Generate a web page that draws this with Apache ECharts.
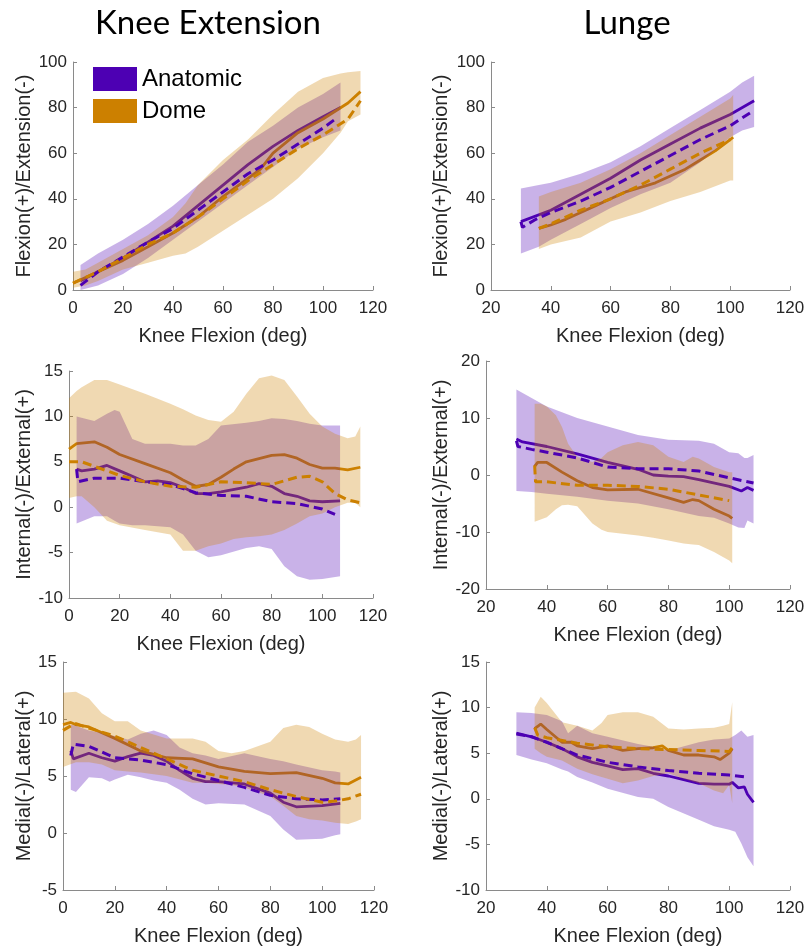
<!DOCTYPE html>
<html><head><meta charset="utf-8">
<script src="https://cdn.jsdelivr.net/npm/echarts@6/dist/echarts.min.js"></script>
<style>html,body{margin:0;padding:0;background:#fff}#c{width:809px;height:951px}</style>
</head><body><div id="c"></div>
<script>
// ---------- Panel 1: Knee Extension, Flexion/Extension ----------
const p1AnatBandX = [3,10,20,30,40,50,60,70,80,90,100,107];
const p1AnatLo    = [0,2,7,14,22,30,38,46,54,62,67,70];
const p1AnatHi    = [11,16,22,29,37,46,55,65,72,80,86,91];
const p1DomeBandX = [0,5,10,20,30,40,45,50,60,70,80,90,100,107,110,115];
const p1DomeLo    = [1,2,4,9,12,15,16,19,26,33,40,49,60,69,74,77];
const p1DomeHi    = [8,9,12,18,24,32,38,46,57,66,77,87,93,95,95.5,96];
const p1AnatSolidX = [3,10,20,30,40,50,60,70,80,90,100,107];
const p1AnatSolidY = [4,8,14,21,28,37,46,55,63,70,76,80];
const p1AnatDashX  = [3,10,20,30,40,50,60,70,80,90,100,105];
const p1AnatDashY  = [2,8,14.5,21,27,35,43,51,57,64,71,75];
const p1DomeSolidX = [0,10,20,30,40,50,60,70,75,80,90,100,110,115];
const p1DomeSolidY = [3,8,13,19,25,32,41,49,53,60,69,75,82,87];
const p1DomeDashX  = [0,10,20,30,40,50,60,70,80,90,100,110,115];
const p1DomeDashY  = [3,8,14,20,25,32,40,48,55,62,68,75,83];

// ---------- Panel 2: Lunge, Flexion/Extension ----------
const p2AnatBandX = [30,36,40,50,60,70,80,90,100,104,108];
const p2AnatLo    = [16,19,22,29,36,42,47,56,67,70,71.5];
const p2AnatHi    = [44.5,46,47,51,56,63,71,79,87,91,94];
const p2DomeBandX = [36,40,50,60,70,80,90,100,101];
const p2DomeLo    = [18,20,23,30,34,39,43,48,48];
const p2DomeHi    = [41,43,47,53,60,68,76,84,85.5];
const p2AnatSolidX = [30,40,50,60,70,80,90,100,108];
const p2AnatSolidY = [30,35,42,49,57,64,71,77,83];
const p2AnatDashX  = [30,30.5,35,40,50,60,70,80,90,100,107];
const p2AnatDashY  = [30,27.5,31,34,39,45,52,59,66,72,78];
const p2DomeSolidX = [36,40,45,50,55,60,65,70,75,80,85,90,95,100,101];
const p2DomeSolidY = [27,28.5,31,34,37,40,43,45,47,50,53,57,61,66,67];
const p2DomeDashX  = [36,40,50,60,70,80,90,100];
const p2DomeDashY  = [27,29,35,40,46,53,60,66];

// ---------- Panel 3: Knee Extension, Internal/External ----------
const p3AnatBandX = [3,10,15,18,20,25,30,40,45,50,55,60,70,75,80,85,90,95,100,107];
const p3AnatLo    = [-1.8,-1,-1,-1.5,-1.8,-2,-2,-2.2,-3,-4.8,-5.5,-5.3,-4.5,-4.3,-4.6,-6.5,-7.6,-8,-7.9,-7.6];
const p3AnatHi    = [10,9.5,10.3,10.7,10.5,7.5,7,7,6.8,6.8,7.5,9,9.3,9.5,9.8,9.7,9.5,9.2,9,9];
const p3DomeBandX = [0,3,5,10,15,20,30,40,45,50,55,60,65,70,75,80,85,90,95,100,105,110,113,115];
const p3DomeLo    = [1,1.2,1.2,0,-1.5,-2,-2.5,-3,-4.8,-4.8,-4.3,-4,-3.5,-3.3,-3.2,-3,-2.5,-1.8,-1,-0.7,0,0.5,0.5,0];
const p3DomeHi    = [12,12.8,13.2,14,14,13.5,12.5,11.4,10.8,10.1,9.6,9.4,10.5,12.5,14.2,14.5,14,12.2,10.3,8.9,8.1,7.6,7.8,8.9];
const p3AnatSolidX = [3,5,10,15,20,30,35,40,45,50,55,60,70,75,80,85,90,95,100,107];
const p3AnatSolidY = [4.2,4,4.2,4.6,4,2.8,2.9,2.7,2.2,1.5,1.5,1.7,2.2,2.6,2.3,1.5,1.2,0.7,0.6,0.7];
const p3AnatDashX  = [3,3.5,10,20,30,40,50,60,70,80,90,100,105];
const p3AnatDashY  = [4.2,2.8,3.2,3.2,2.8,2.5,1.6,1.3,1.2,0.6,0.4,-0.2,-0.8];
const p3DomeSolidX = [0,3,10,15,20,30,40,45,50,55,60,65,70,80,85,90,95,100,105,110,115];
const p3DomeSolidY = [6.4,7,7.2,6.6,5.8,4.8,3.8,3,2.3,2.5,3.3,4.2,5,5.7,5.8,5.4,4.7,4.3,4.3,4.1,4.4];
const p3DomeDashX  = [0,5,10,20,30,40,50,60,70,80,90,95,100,105,110,115];
const p3DomeDashY  = [5,5,4.5,3.5,2.8,2.3,2.2,2.8,2.7,2.5,3.3,3.4,2.8,1.5,0.8,0.5];

// ---------- Panel 4: Lunge, Internal/External ----------
const p4AnatBandX = [30,35,40,50,60,70,80,90,95,100,103,105,106,108];
const p4AnatLo    = [-2.8,-3,-3.3,-3.8,-4.5,-5,-6,-7.2,-7.5,-8.5,-9.2,-9.3,-8,-8.5];
const p4AnatHi    = [15,13.5,12,10,8.5,7,6.2,6,5.5,4,3.8,3,3,3.5];
const p4DomeBandX = [36,38,40,43,45,47,50,55,58,60,65,70,75,80,85,88,90,95,100,101];
const p4DomeLo    = [-8.2,-7.8,-7.4,-6,-5.3,-5.2,-5.5,-8.5,-9.6,-10,-10.3,-10.6,-11,-11.5,-12,-12.2,-12.3,-13.5,-15,-15.5];
const p4DomeHi    = [12.5,12.5,12,10.5,8.4,5.5,3.2,2.3,3,4,5.2,5.8,5.2,3.2,2.3,3.2,2.9,1.4,0.5,0.5];
const p4AnatSolidX = [30,32,40,50,60,70,75,80,85,90,100,104,106,108];
const p4AnatSolidY = [6.3,5.8,5,3.7,2.2,1,0,-0.2,-0.3,-0.8,-2,-2.8,-2.2,-2.7];
const p4AnatDashX  = [30,30.5,35,40,50,60,70,80,90,100,108];
const p4AnatDashY  = [6,5,4.5,4,3,1.4,1.1,1.1,0.7,-0.5,-1.4];
const p4DomeSolidX = [36,37,40,45,50,55,60,70,80,85,88,90,95,100,101];
const p4DomeSolidY = [1.5,2.2,2.2,0.5,-1,-2.2,-2.6,-2.5,-4,-4.8,-4.3,-4.5,-6,-7.2,-7.6];
const p4DomeDashX  = [36,36.3,40,50,60,70,80,90,100];
const p4DomeDashY  = [1.7,-1.2,-1.2,-1.8,-1.8,-2,-2.5,-3.5,-4.5];

// ---------- Panel 5: Knee Extension, Medial/Lateral ----------
const p5AnatBandX = [3,5,10,15,18,20,25,30,35,40,45,50,55,60,70,80,85,90,100,105,107];
const p5AnatLo    = [3.8,3.6,4.9,4.8,4.5,4.7,5.1,4.9,4.6,4.4,3.8,3,2.5,2.6,2.5,1.5,0.3,-0.6,-0.5,-0.2,-0.1];
const p5AnatHi    = [9.5,9.4,9,8.8,8.6,8.5,8.2,8.7,9,8.6,7.5,7,6.8,6.5,7,6.5,6.3,6,5.5,5.4,5.3];
const p5DomeBandX = [0,5,10,15,20,25,30,40,50,55,60,65,70,80,85,90,95,100,105,110,113,115];
const p5DomeLo    = [5.8,6.2,6.2,6,5.5,5.4,5.3,5,4.4,4.4,4.3,4.2,4,3.2,2.4,1.5,1.2,1.1,0.9,0.8,1,1.2];
const p5DomeHi    = [12.3,12.4,11.8,10.5,9.8,9.8,9,8.3,8.3,8,7.2,7,7.2,8,9.2,9.5,9.3,8.7,8.2,8,8.2,8.6];
const p5AnatSolidX = [3,4,10,15,20,25,30,35,40,45,50,55,60,70,80,85,90,100,107];
const p5AnatSolidY = [7.2,6.5,7,6.6,6.3,6.7,7,6.8,6.3,5.5,4.8,4.5,4.5,4.3,3.5,2.7,2.3,2.4,2.6];
const p5AnatDashX  = [3,4,10,20,30,40,50,60,70,80,90,100,107];
const p5AnatDashY  = [6.8,7.8,7.6,6.6,6.4,6,5.2,4.6,4,3.3,3,2.9,3];
const p5DomeSolidX = [0,3,5,10,20,30,40,50,60,70,80,90,100,105,110,115];
const p5DomeSolidY = [9.5,9.7,9.5,9.3,8.3,7.2,6.6,6.5,5.8,5.4,5.2,5.3,4.8,4.4,4.3,4.9];
const p5DomeDashX  = [0,3,5,10,20,30,40,50,60,70,80,90,100,105,110,115];
const p5DomeDashY  = [9,9.4,9.6,9.2,8.5,7.5,6.5,5.5,5,4.5,3.8,3.2,2.7,2.8,3,3.4];

// ---------- Panel 6: Lunge, Medial/Lateral ----------
const p6AnatBandX = [30,35,40,45,47,50,55,60,70,75,80,90,95,100,102,104,106,108];
const p6AnatLo    = [4.8,4.3,3.9,3.2,3,2.4,1.8,1.1,0.2,0,-0.9,-2.3,-3,-3.4,-3.6,-4.9,-6.4,-7.4];
const p6AnatHi    = [9.5,9.4,9.2,8.5,7.2,8,7.2,6.8,6,5.7,5.3,6.2,6.5,6.6,7,7.5,6.8,7];
const p6DomeBandX = [36,38,40,45,50,55,58,60,65,70,75,80,85,90,95,98,100,101];
const p6DomeLo    = [5.5,5,4.6,4.2,3.3,2.7,2.4,2.2,1.7,2,2.5,2.8,2.2,1.7,0.9,0.6,1.5,-0.5];
const p6DomeHi    = [10,11.2,10.5,8.4,8,7.5,8.3,9.2,9.5,9.5,9,7.7,7.6,7.7,7.8,8,8.2,10.6];
const p6AnatSolidX = [30,35,40,45,50,55,60,65,70,75,80,85,90,95,100,101,103,105,106,108];
const p6AnatSolidY = [7.2,6.8,6.2,5.5,4.6,4,3.6,3.2,3.3,2.8,2.5,2.1,1.7,1.6,1.6,1.8,1.2,1.3,0.5,-0.4];
const p6AnatDashX  = [30,35,40,50,60,70,80,90,100,105];
const p6AnatDashY  = [7.1,6.8,6.2,4.8,4,3.5,3.1,2.8,2.6,2.4];
const p6DomeSolidX = [36,38,40,45,48,50,55,60,65,70,75,78,80,85,90,95,97,100,101];
const p6DomeSolidY = [7.7,8.2,7.6,6.2,6.2,5.8,5.5,5.8,5.3,5.5,5.6,5.8,5.3,4.8,4.8,4.6,4.3,5,5.5];
const p6DomeDashX  = [36,37,40,50,60,70,80,90,100,101];
const p6DomeDashY  = [7.8,7,6.7,6.1,5.7,5.5,5.4,5.3,5.2,5.6];

// ---------- Axes / labels ----------
const titles = ['Knee Extension', 'Lunge'];
const yNames = ['Flexion(+)/Extension(-)', 'Internal(-)/External(+)', 'Medial(-)/Lateral(+)'];
const xName = 'Knee Flexion (deg)';
const seriesNames = ['Anatomic', 'Dome'];
const xRanges = [[0,120],[20,120],[0,120],[20,120],[0,120],[20,120]];
const yRanges = [[0,100,20],[0,100,20],[-10,15,5],[-20,20,10],[-5,15,5],[-10,15,5]];

const PURPLE = '#4d00b3';
const ORANGE = '#cc8000';
const TXT = '#262626';
const AXC = '#8a8a8a';

const grids = [
  {left:73,  top:62,  width:300, height:228},
  {left:491, top:62,  width:299, height:228},
  {left:69,  top:371, width:304, height:227},
  {left:486, top:361, width:304, height:228},
  {left:63,  top:662, width:311, height:228},
  {left:486, top:662, width:304, height:228}
];
const yNameGaps = [39, 40, 35, 35, 29, 35];

const panels = [
  {ab:[p1AnatBandX,p1AnatLo,p1AnatHi], db:[p1DomeBandX,p1DomeLo,p1DomeHi], as:[p1AnatSolidX,p1AnatSolidY], ad:[p1AnatDashX,p1AnatDashY], ds:[p1DomeSolidX,p1DomeSolidY], dd:[p1DomeDashX,p1DomeDashY]},
  {ab:[p2AnatBandX,p2AnatLo,p2AnatHi], db:[p2DomeBandX,p2DomeLo,p2DomeHi], as:[p2AnatSolidX,p2AnatSolidY], ad:[p2AnatDashX,p2AnatDashY], ds:[p2DomeSolidX,p2DomeSolidY], dd:[p2DomeDashX,p2DomeDashY]},
  {ab:[p3AnatBandX,p3AnatLo,p3AnatHi], db:[p3DomeBandX,p3DomeLo,p3DomeHi], as:[p3AnatSolidX,p3AnatSolidY], ad:[p3AnatDashX,p3AnatDashY], ds:[p3DomeSolidX,p3DomeSolidY], dd:[p3DomeDashX,p3DomeDashY]},
  {ab:[p4AnatBandX,p4AnatLo,p4AnatHi], db:[p4DomeBandX,p4DomeLo,p4DomeHi], as:[p4AnatSolidX,p4AnatSolidY], ad:[p4AnatDashX,p4AnatDashY], ds:[p4DomeSolidX,p4DomeSolidY], dd:[p4DomeDashX,p4DomeDashY]},
  {ab:[p5AnatBandX,p5AnatLo,p5AnatHi], db:[p5DomeBandX,p5DomeLo,p5DomeHi], as:[p5AnatSolidX,p5AnatSolidY], ad:[p5AnatDashX,p5AnatDashY], ds:[p5DomeSolidX,p5DomeSolidY], dd:[p5DomeDashX,p5DomeDashY]},
  {ab:[p6AnatBandX,p6AnatLo,p6AnatHi], db:[p6DomeBandX,p6DomeLo,p6DomeHi], as:[p6AnatSolidX,p6AnatSolidY], ad:[p6AnatDashX,p6AnatDashY], ds:[p6DomeSolidX,p6DomeSolidY], dd:[p6DomeDashX,p6DomeDashY]}
];

function pairs(xs, ys){ return xs.map((x,i)=>[x, ys[i]]); }

function band(gi, name, b, color){
  const xs=b[0], lo=b[1], hi=b[2];
  return {
    type:'custom', name:name, xAxisIndex:gi, yAxisIndex:gi, z:3, silent:true,
    data: xs.map((x,i)=>[x, lo[i], hi[i]]),
    encode:{x:0, y:[1,2]},
    renderItem:function(params, api){
      if (params.dataIndex !== 0) return null;
      const pts=[];
      for (let i=0;i<xs.length;i++) pts.push(api.coord([xs[i], hi[i]]));
      for (let i=xs.length-1;i>=0;i--) pts.push(api.coord([xs[i], lo[i]]));
      return {type:'polygon', shape:{points:pts}, style:{fill:color, opacity:0.3}};
    }
  };
}
function line(gi, name, d, color, dashed){
  return {
    type:'line', name:name, xAxisIndex:gi, yAxisIndex:gi, z: dashed?4:2, silent:true,
    data: pairs(d[0], d[1]), showSymbol:false, symbol:'none', animation:false,
    color: color,
    lineStyle: dashed ? {color:color, width:3, type:[9,5]} : {color:color, width:2.8}
  };
}

const xAxes=[], yAxes=[], series=[];
panels.forEach((p, gi)=>{
  xAxes.push({
    type:'value', gridIndex:gi, min:xRanges[gi][0], max:xRanges[gi][1], interval:20,
    name:xName, nameLocation:'middle', nameGap:36,
    nameTextStyle:{fontFamily:'Liberation Sans', fontSize:20, color:TXT},
    axisLine:{show:true, onZero:false, lineStyle:{color:AXC, width:1}},
    axisTick:{show:true, inside:true, length:4, lineStyle:{color:AXC}},
    axisLabel:{fontFamily:'Liberation Sans', fontSize:17, color:TXT, margin:10},
    splitLine:{show:false}
  });
  yAxes.push({
    type:'value', gridIndex:gi, min:yRanges[gi][0], max:yRanges[gi][1], interval:yRanges[gi][2],
    name:yNames[Math.floor(gi/2)], nameLocation:'middle', nameGap:yNameGaps[gi],
    nameTextStyle:{fontFamily:'Liberation Sans', fontSize:20, color:TXT},
    axisLine:{show:true, onZero:false, lineStyle:{color:AXC, width:1}},
    axisTick:{show:true, inside:true, length:4, lineStyle:{color:AXC}},
    axisLabel:{fontFamily:'Liberation Sans', fontSize:17, color:TXT, margin:6},
    splitLine:{show:false}
  });
  series.push(line(gi, seriesNames[0], p.as, PURPLE, false));
  series.push(line(gi, seriesNames[1], p.ds, ORANGE, false));
  series.push(band(gi, seriesNames[0], p.ab, PURPLE));
  series.push(band(gi, seriesNames[1], p.db, ORANGE));
  series.push(line(gi, seriesNames[0], p.ad, PURPLE, true));
  series.push(line(gi, seriesNames[1], p.dd, ORANGE, true));
});

const chart = echarts.init(document.getElementById('c'), null, {renderer:'canvas'});
chart.setOption({
  animation:false,
  backgroundColor:'#fff',
  title:[
    {text:titles[0], left:203, top:2, textAlign:'center', textStyle:{fontFamily:'Lato', fontSize:33, fontWeight:'normal', color:'#000'}},
    {text:titles[1], left:622, top:2, textAlign:'center', textStyle:{fontFamily:'Lato', fontSize:33, fontWeight:'normal', color:'#000'}}
  ],
  legend:{
    show:true, orient:'vertical', left:88, top:62, itemWidth:44, itemHeight:24, itemGap:8,
    selectedMode:false, icon:'rect',
    textStyle:{fontFamily:'Liberation Sans', fontSize:24, color:'#000'},
    data:[{name:seriesNames[0], itemStyle:{color:PURPLE}}, {name:seriesNames[1], itemStyle:{color:ORANGE}}]
  },
  grid:grids,
  xAxis:xAxes,
  yAxis:yAxes,
  series:series
});
</script>
</body></html>
